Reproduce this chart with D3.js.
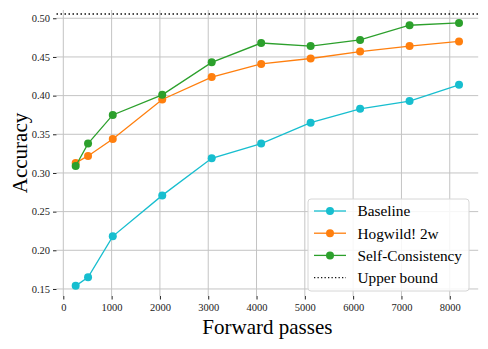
<!doctype html>
<html>
<head>
  <meta charset="utf-8">
  <script src="https://d3js.org/d3.v7.min.js"></script>
  <style>
    body { margin: 0; background: #fff; }
    svg { display: block; font-family: "Liberation Serif", "DejaVu Serif", serif; }
    .grid line { stroke: #c4c4c4; stroke-width: 1; }
    .axis path { display: none; }
    .axis line { stroke: #222; }
  </style>
</head>
<body>
<script>
  // forward passes (x) and accuracy for each method
  var passes = [256, 512, 1024, 2048, 3072, 4096, 5120, 6144, 7168, 8192];
  var baseline = [0.154, 0.165, 0.218, 0.271, 0.319, 0.338, 0.365, 0.383, 0.393, 0.414];
  var hogwild = [0.313, 0.322, 0.344, 0.395, 0.424, 0.441, 0.448, 0.457, 0.464, 0.470];
  var selfCons = [0.309, 0.338, 0.375, 0.401, 0.443, 0.468, 0.464, 0.472, 0.491, 0.494];
  var upperBound = 0.5056;
  var xTicks = [0, 1000, 2000, 3000, 4000, 5000, 6000, 7000, 8000];
  var yTicks = [0.15, 0.20, 0.25, 0.30, 0.35, 0.40, 0.45, 0.50];

  var series = [
    { name: "Baseline", values: baseline, color: "#17becf" },
    { name: "Hogwild! 2w", values: hogwild, color: "#ff7f0e" },
    { name: "Self-Consistency", values: selfCons, color: "#2ca02c" }
  ];

  var W = 488, H = 349;
  var plotL = 56.5, plotR = 478.2, plotT = 10, plotB = 296;

  var svg = d3.select("body").append("svg")
    .attr("width", W).attr("height", H);

  var x = d3.scaleLinear().domain([-141, 8589]).range([plotL, plotR]);
  var y = d3.scaleLinear().domain([0.1409, 0.5107]).range([plotB, plotT]);

  // grid
  var grid = svg.append("g").classed("grid", true);
  grid.selectAll(".gx").data(xTicks).enter().append("line")
    .attr("x1", function (d) { return x(d); }).attr("x2", function (d) { return x(d); })
    .attr("y1", plotT).attr("y2", plotB);
  grid.selectAll(".gy").data(yTicks).enter().append("line")
    .attr("y1", function (d) { return y(d); }).attr("y2", function (d) { return y(d); })
    .attr("x1", plotL).attr("x2", plotR);

  // axes
  var gx = svg.append("g").classed("axis", true)
    .attr("transform", "translate(0," + plotB + ")")
    .call(d3.axisBottom(x).tickValues(xTicks).tickSize(3.5).tickPadding(4).tickFormat(d3.format("d")));
  var gy = svg.append("g").classed("axis", true)
    .attr("transform", "translate(" + plotL + ",0)")
    .call(d3.axisLeft(y).tickValues(yTicks).tickSize(3.5).tickPadding(3).tickFormat(d3.format(".2f")));
  [gx, gy].forEach(function (g) {
    g.attr("font-family", null).attr("font-size", null);
    g.selectAll("text")
      .style("font-family", "'Liberation Serif', serif")
      .style("font-size", "10.5px")
      .style("fill", "#222");
  });

  // upper bound
  svg.append("line")
    .attr("x1", plotL).attr("x2", plotR)
    .attr("y1", y(upperBound)).attr("y2", y(upperBound))
    .style("stroke", "#111").style("stroke-width", 1.5)
    .style("stroke-dasharray", "1.5,2.5");

  var line = d3.line()
    .x(function (d, i) { return x(passes[i]); })
    .y(function (d) { return y(d); });

  series.forEach(function (s) {
    var g = svg.append("g");
    g.append("path").attr("d", line(s.values))
      .style("fill", "none").style("stroke", s.color).style("stroke-width", 1.3);
    g.selectAll("circle").data(s.values).enter().append("circle")
      .attr("cx", function (d, i) { return x(passes[i]); })
      .attr("cy", function (d) { return y(d); })
      .attr("r", 4).style("fill", s.color);
  });

  // labels
  svg.append("text")
    .attr("x", (plotL + plotR) / 2).attr("y", 334)
    .attr("text-anchor", "middle").style("font-size", "21px")
    .text("Forward passes");
  svg.append("text")
    .attr("transform", "translate(27," + (plotT + plotB) / 2 + ") rotate(-90)")
    .attr("text-anchor", "middle").style("font-size", "21px")
    .text("Accuracy");

  // legend
  var leg = svg.append("g").attr("transform", "translate(308,199)");
  leg.append("rect").attr("width", 161).attr("height", 92).attr("rx", 3)
    .style("fill", "rgba(255,255,255,0.85)").style("stroke", "#d6d6d6");
  var items = series.concat([{ name: "Upper bound", color: "#111", dotted: true }]);
  items.forEach(function (s, i) {
    var yy = 12 + i * 22.2;
    var li = leg.append("g").attr("transform", "translate(0," + yy + ")");
    li.append("line").attr("x1", 6).attr("x2", 38)
      .style("stroke", s.color)
      .style("stroke-width", 1.3)
      .style("stroke-dasharray", s.dotted ? "1.3,2.2" : null);
    if (!s.dotted) li.append("circle").attr("cx", 22).attr("r", 4).style("fill", s.color);
    li.append("text").attr("x", 49.5).attr("dy", "0.35em")
      .style("font-size", "15.3px").text(s.name);
  });
</script>
</body>
</html>
